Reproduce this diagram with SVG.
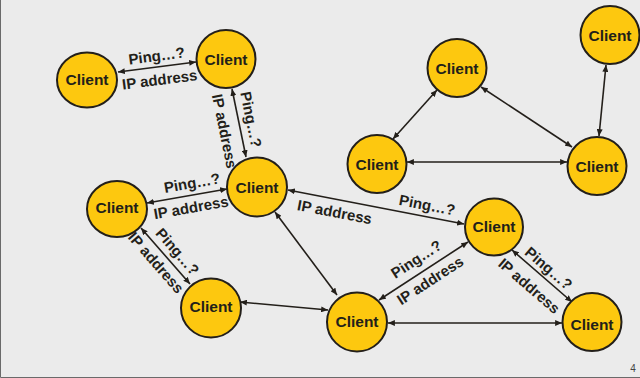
<svg xmlns="http://www.w3.org/2000/svg" width="640" height="378" viewBox="0 0 640 378">
  <style>
    .node ellipse { fill: #fdc80f; stroke: #231f1a; stroke-width: 2; }
    .node text { font-family: "Liberation Sans", Arial, sans-serif; font-weight: bold; font-size: 15.5px; fill: #231f1a; text-anchor: middle; }
    .edges line { stroke: #231f1a; stroke-width: 1.6; marker-start: url(#tip); marker-end: url(#tip); }
    .lbl { font-family: "Liberation Sans", Arial, sans-serif; font-weight: bold; font-size: 15px; fill: #231f1a; text-anchor: middle; }
  </style>
  <defs>
    <marker id="tip" viewBox="0 0 8 7" refX="8" refY="3.5" markerWidth="7" markerHeight="6" markerUnits="userSpaceOnUse" orient="auto-start-reverse">
      <path d="M0,0 L8,3.5 L0,7 z" fill="#231f1a"/>
    </marker>
  </defs>

  <rect width="640" height="378" fill="#ebebeb"/>
  <path d="M0.5,0 V377.5 H640" fill="none" stroke="#6a6a6a" stroke-width="1"/>

  <g class="edges" id="connectors">
    <line x1="118" y1="72" x2="196" y2="62"/>
    <line x1="232" y1="89" x2="246" y2="157"/>
    <line x1="147" y1="203" x2="227" y2="189"/>
    <line x1="141" y1="228" x2="190" y2="284"/>
    <line x1="240" y1="302" x2="328" y2="310"/>
    <line x1="275" y1="212" x2="337" y2="295"/>
    <line x1="288" y1="190" x2="464" y2="224"/>
    <line x1="379" y1="300" x2="468" y2="242"/>
    <line x1="512" y1="250" x2="572" y2="302"/>
    <line x1="388" y1="323" x2="562" y2="323"/>
    <line x1="437" y1="90" x2="393" y2="139"/>
    <line x1="481" y1="87" x2="572" y2="147"/>
    <line x1="407" y1="162" x2="567" y2="162"/>
    <line x1="606" y1="65" x2="599" y2="136"/>
  </g>

  <g id="labels">
    <g transform="translate(158,67) rotate(-7.3)">
      <text class="lbl" y="-6">Ping…?</text>
      <text class="lbl" y="18">IP address</text>
    </g>
    <text class="lbl" transform="translate(239,122) rotate(78.4)" y="-7">Ping…?</text>
    <text class="lbl" transform="translate(240,128) rotate(78.4)" y="21">IP address</text>
    <text class="lbl" transform="translate(194,195) rotate(-9.9)" y="-7">Ping…?</text>
    <text class="lbl" transform="translate(189,196) rotate(-9.9)" y="17">IP address</text>
    <text class="lbl" transform="translate(169,259) rotate(48.8)" y="-6">Ping…?</text>
    <text class="lbl" transform="translate(165,255) rotate(48.8)" y="17">IP address</text>
    <text class="lbl" transform="translate(425,216) rotate(10.9)" y="-6">Ping…?</text>
    <text class="lbl" transform="translate(337,200) rotate(10.9)" y="17.5">IP address</text>
    <g transform="translate(424,271) rotate(-33.1)">
      <text class="lbl" y="-9">Ping…?</text>
      <text class="lbl" y="16.5">IP address</text>
    </g>
    <text class="lbl" transform="translate(542,276) rotate(40.9)" y="-5">Ping…?</text>
    <text class="lbl" transform="translate(539.5,274) rotate(40.9)" y="21">IP address</text>
  </g>

  <g class="node" id="client-a"><ellipse cx="87" cy="80" rx="30" ry="27.5"/><text x="87" y="84.5">Client</text></g>
  <g class="node" id="client-b"><ellipse cx="226" cy="59" rx="29.5" ry="29"/><text x="226" y="65">Client</text></g>
  <g class="node" id="client-c"><ellipse cx="257" cy="187" rx="30" ry="29.5"/><text x="257" y="193">Client</text></g>
  <g class="node" id="client-d"><ellipse cx="117" cy="209" rx="30" ry="28"/><text x="117" y="213">Client</text></g>
  <g class="node" id="client-e"><ellipse cx="211" cy="308" rx="30" ry="29.5"/><text x="211" y="312">Client</text></g>
  <g class="node" id="client-f"><ellipse cx="357" cy="322" rx="30" ry="29.5"/><text x="357" y="327">Client</text></g>
  <g class="node" id="client-g"><ellipse cx="494" cy="227" rx="29" ry="28.5"/><text x="494" y="232">Client</text></g>
  <g class="node" id="client-h"><ellipse cx="592" cy="322" rx="29.5" ry="29"/><text x="592" y="330">Client</text></g>
  <g class="node" id="client-t1"><ellipse cx="457" cy="68" rx="29.5" ry="29"/><text x="457" y="74">Client</text></g>
  <g class="node" id="client-tl"><ellipse cx="377" cy="164" rx="29.5" ry="29"/><text x="377" y="170">Client</text></g>
  <g class="node" id="client-tr"><ellipse cx="597" cy="166" rx="29.5" ry="29"/><text x="597" y="172">Client</text></g>
  <g class="node" id="client-tt"><ellipse cx="610" cy="35" rx="29.5" ry="29"/><text x="610" y="41">Client</text></g>

  <text x="633" y="372" font-family="Liberation Sans, Arial, sans-serif" font-size="10" fill="#444" text-anchor="middle">4</text>
</svg>
